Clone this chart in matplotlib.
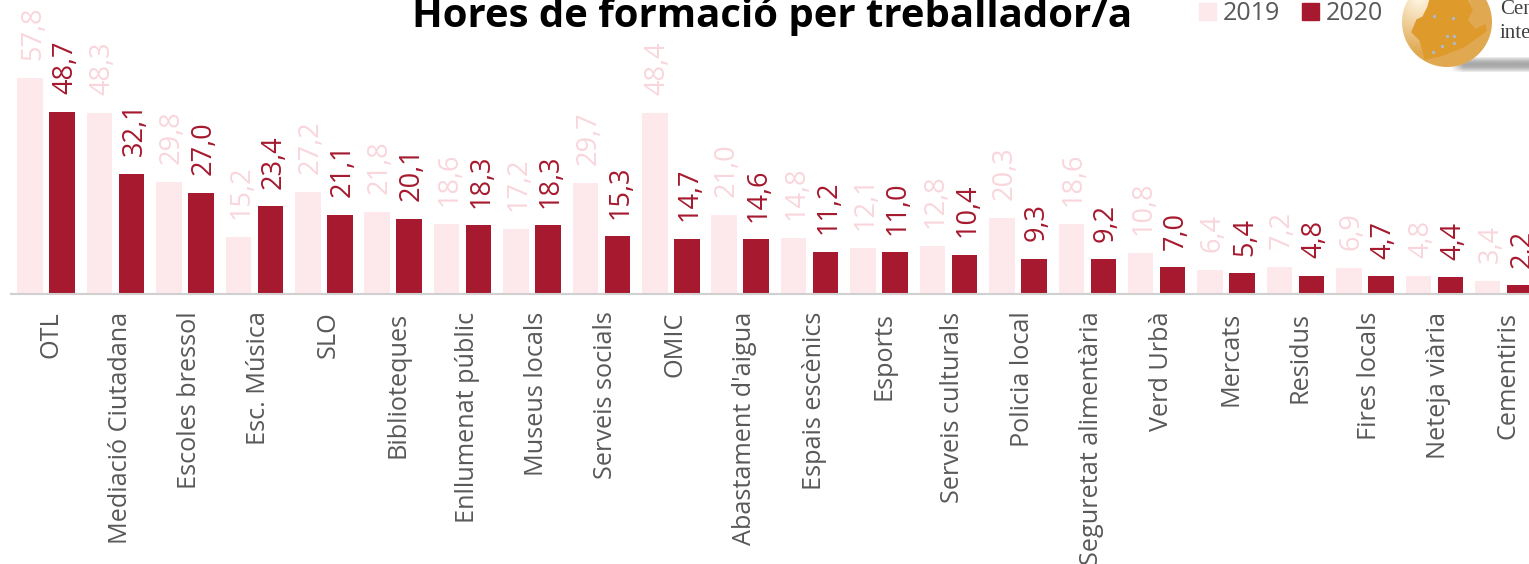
import numpy as np
from matplotlib import pyplot as plt
from matplotlib.patches import Patch, Polygon, Circle

plt.rcParams['font.family'] = ['Open Sans', 'DejaVu Sans']

categories = ['OTL', 'Mediació Ciutadana', 'Escoles bressol', 'Esc. Música', 'SLO',
              'Biblioteques', 'Enllumenat públic', 'Museus locals', 'Serveis socials',
              'OMIC', "Abastament d'aigua", 'Espais escènics', 'Esports',
              'Serveis culturals', 'Policia local', 'Seguretat alimentària', 'Verd Urbà',
              'Mercats', 'Residus', 'Fires locals', 'Neteja viària', 'Cementiris']
values_2019 = [57.8, 48.3, 29.8, 15.2, 27.2, 21.8, 18.6, 17.2, 29.7, 48.4, 21.0,
               14.8, 12.1, 12.8, 20.3, 18.6, 10.8, 6.4, 7.2, 6.9, 4.8, 3.4]
values_2020 = [48.7, 32.1, 27.0, 23.4, 21.1, 20.1, 18.3, 18.3, 15.3, 14.7, 14.6,
               11.2, 11.0, 10.4, 9.3, 9.2, 7.0, 5.4, 4.8, 4.7, 4.4, 2.2]

PALE = '#FDE8EB'
PALE_TEXT = '#F9D6DC'
DARK = '#A6192E'
GREY = '#595959'

W, H = 1529, 564
fig = plt.figure(figsize=(W / 100, H / 100), dpi=100)

# main axes, top of the figure down to the baseline
base = 293.5
ax = fig.add_axes([11 / W, 1 - base / H, (W - 11) / W, base / H])
x = np.arange(len(categories))
off = 0.2305
w = 0.367
ax.bar(x - off, values_2019, w, color=PALE)
ax.bar(x + off, values_2020, w, color=DARK)
ax.set_xlim(-0.507, 21.365)
ax.set_ylim(0, base / 3.73)

for i in x:
    ax.annotate(f'{values_2019[i]:.1f}'.replace('.', ','), (i - off, values_2019[i]),
                xytext=(2, 13), textcoords='offset points', rotation=90,
                ha='center', va='bottom', fontsize=19.5, color=PALE_TEXT, clip_on=False)
    ax.annotate(f'{values_2020[i]:.1f}'.replace('.', ','), (i + off, values_2020[i]),
                xytext=(2, 12.5), textcoords='offset points', rotation=90,
                ha='center', va='bottom', fontsize=19.5, color=DARK, clip_on=False)

for s in ['top', 'left', 'right']:
    ax.spines[s].set_visible(False)
ax.spines['bottom'].set_color('#D0D0D0')
ax.spines['bottom'].set_linewidth(1.5)
ax.set_yticks([])
ax.set_xticks(x + 0.065)
ax.set_xticklabels(categories, rotation=90, fontsize=18.2, color=GREY)
ax.tick_params(axis='x', length=0, pad=13)

fig.text(772 / W, 1 - 16 / H, 'Hores de formació per treballador/a', ha='center',
         va='center', fontsize=28.9, fontweight='bold', color='black')

handles = [Patch(color=PALE, label='2019'), Patch(color=DARK, label='2020')]
fig.legend(handles=handles, loc='center left', bbox_to_anchor=(1199 / W, 1 - 14 / H),
           ncol=2, frameon=False, fontsize=18, labelcolor=GREY, handlelength=0.68,
           handleheight=0.68, handletextpad=0.28, columnspacing=0.85,
           borderpad=0, borderaxespad=0)

# logo in pixel coordinates
logo = fig.add_axes([0, 0, 1, 1], zorder=5)
logo.set_xlim(0, W)
logo.set_ylim(H, 0)
logo.axis('off')

# grey shadow under the globe
sx = np.linspace(0, 1, 80)
sy = np.linspace(-1, 1, 14)
gx, gy = np.meshgrid(sx, sy)
shadow = np.clip(1 - gy ** 2, 0, 1) * np.clip(gx * 6, 0, 1) * 0.85
shadow_rgba = np.zeros(shadow.shape + (4,))
shadow_rgba[..., :3] = 0.6
shadow_rgba[..., 3] = shadow
logo.imshow(shadow_rgba, extent=(1450, W, 73, 56), aspect='auto', zorder=1)

# globe with a light corner top left
cx, cy, r = 1447, 22, 45
yy, xx = np.mgrid[cy - r:cy + r:200j, cx - r:cx + r:200j]
d = np.hypot(xx - (cx - 28), yy - (cy - 24)) / (1.2 * r)
d = np.clip(d, 0, 1)[..., None]
light = np.array([1.0, 0.97, 0.90])
gold = np.array([0.88, 0.66, 0.32])
globe = light * (1 - d) + gold * d
im = logo.imshow(globe, extent=(cx - r, cx + r, cy + r, cy - r), aspect='auto', zorder=2)
im.set_clip_path(Circle((cx, cy), r, transform=logo.transData))

# map shape, points
map_x = [1430, 1467, 1472, 1467, 1475, 1485, 1486, 1463, 1440, 1425, 1423, 1420, 1412, 1417, 1423, 1428]
map_y = [0, 0, 10, 20, 30, 25, 31, 47, 56, 59, 50, 40, 32, 20, 17, 7]
logo.add_patch(Polygon(np.column_stack([map_x, map_y]), color='#DE9A2A', zorder=3))
dot_x = [1434, 1453, 1447, 1454, 1454, 1442, 1433]
dot_y = [16, 18, 36, 36, 43, 46, 52]
logo.scatter(dot_x, dot_y, s=6, color='#AEB8C8', zorder=4, linewidths=0)

logo.text(1500, 9, 'Cen', family='Liberation Serif', fontsize=15, color='#404040',
          va='center', ha='left', zorder=4)
logo.text(1500, 33, 'inte', family='Liberation Serif', fontsize=15, color='#404040',
          va='center', ha='left', zorder=4)
logo.set_xlim(0, W)
logo.set_ylim(H, 0)

fig.savefig('out.png', dpi=100)
